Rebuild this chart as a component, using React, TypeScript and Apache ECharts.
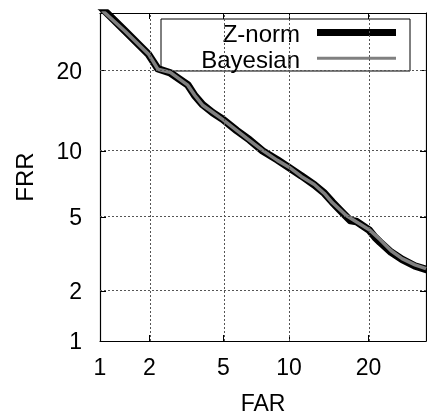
import React, { useEffect, useRef } from "react";
import * as echarts from "echarts";

// Tick labels (percent)
const X_TICKS = [1, 2, 5, 10, 20];
const Y_TICKS = [1, 2, 5, 10, 20];
const AXIS_MIN = 1;
const AXIS_MAX = 30;

// Bayesian DET curve (FAR %, FRR %)
const BAYES_FAR = [1.0, 1.06, 1.43, 1.98, 2.24, 2.62, 3.28, 3.57, 3.93, 4.42, 4.96, 5.81, 6.68, 7.67, 8.92, 10.04, 11.25, 12.68, 13.87, 14.86, 16.72, 18.14, 20.09, 21.83, 23.66, 25.57, 27.92, 30.0];
const BAYES_FRR = [31.3, 30.2, 26.64, 22.65, 20.24, 19.78, 17.85, 16.45, 15.12, 14.24, 13.38, 12.12, 11.05, 10.04, 9.11, 8.49, 7.75, 7.13, 6.48, 5.87, 5.08, 4.74, 4.32, 3.84, 3.36, 3.05, 2.82, 2.69];

// Z-norm DET curve (FAR %, FRR %)
const ZNORM_FAR = [1.0, 1.43, 1.98, 2.24, 2.62, 3.28, 3.57, 3.93, 4.42, 4.96, 5.81, 6.68, 7.67, 8.92, 10.04, 11.25, 12.68, 13.87, 14.86, 16.2, 17.3, 18.14, 20.09, 21.0, 21.83, 23.66, 25.57, 27.92, 30.0];
const ZNORM_FRR = [31.3, 26.7, 22.6, 20.3, 19.7, 17.9, 16.4, 15.2, 14.2, 13.4, 12.1, 11.1, 10.0, 9.15, 8.45, 7.8, 7.1, 6.5, 5.9, 5.25, 4.8, 4.75, 4.3, 3.95, 3.72, 3.3, 3.02, 2.78, 2.66];

const SERIES_NAMES = ["Z-norm", "Bayesian"];

// Normal deviate (probit) scale used by DET plots
function probit(pct: number): number {
  const p = pct / 100;
  const a = [-3.969683028665376e1, 2.209460984245205e2, -2.759285104469687e2, 1.38357751867269e2, -3.066479806614716e1, 2.506628277459239];
  const b = [-5.447609879822406e1, 1.615858368580409e2, -1.556989798598866e2, 6.680131188771972e1, -1.328068155288572e1];
  const c = [-7.784894002430293e-3, -3.223964580411365e-1, -2.400758277161838, -2.549732539343734, 4.374664141464968, 2.938163982698783];
  const d = [7.784695709041462e-3, 3.224671290700398e-1, 2.445134137142996, 3.754408661907416];
  const pl = 0.02425;
  const ph = 1 - pl;
  if (p < pl) {
    const q = Math.sqrt(-2 * Math.log(p));
    return (((((c[0] * q + c[1]) * q + c[2]) * q + c[3]) * q + c[4]) * q + c[5]) / ((((d[0] * q + d[1]) * q + d[2]) * q + d[3]) * q + 1);
  }
  if (p <= ph) {
    const q = p - 0.5;
    const r = q * q;
    return ((((((a[0] * r + a[1]) * r + a[2]) * r + a[3]) * r + a[4]) * r + a[5]) * q) / (((((b[0] * r + b[1]) * r + b[2]) * r + b[3]) * r + b[4]) * r + 1);
  }
  const q = Math.sqrt(-2 * Math.log(1 - p));
  return -(((((c[0] * q + c[1]) * q + c[2]) * q + c[3]) * q + c[4]) * q + c[5]) / ((((d[0] * q + d[1]) * q + d[2]) * q + d[3]) * q + 1);
}

const FONT = "Liberation Sans";

export default function App() {
  const ref = useRef<HTMLDivElement>(null);
  useEffect(() => {
    if (!ref.current) return;
    const chart = echarts.init(ref.current, null, { renderer: "svg" });
    const zMin = probit(AXIS_MIN);
    const zMax = probit(AXIS_MAX);
    const xVals = X_TICKS.map(probit);
    const yVals = Y_TICKS.map(probit);
    const fmt = (ticks: number[]) => (v: number) => {
      let best = ticks[0];
      let bd = Infinity;
      ticks.forEach((t) => {
        const dd = Math.abs(probit(t) - v);
        if (dd < bd) { bd = dd; best = t; }
      });
      return String(best);
    };
    const gridLine = { type: [2, 2], color: "#555", width: 1 };
    const tickStyle = { show: true, inside: true, length: 6, lineStyle: { color: "#000", width: 1 } };
    const axisLine = { show: true, onZero: false, lineStyle: { color: "#000", width: 1.2 } };
    const pairs = (xs: number[], ys: number[]) => xs.map((x, i) => [probit(x), probit(ys[i])]);

    chart.setOption({
      animation: false,
      grid: { left: 100, top: 13, width: 326, height: 328, containLabel: false, outerBoundsMode: "none" },
      xAxis: [
        {
          type: "value", position: "bottom", min: zMin, max: zMax,
          axisLine,
          axisTick: { ...tickStyle, customValues: xVals.slice(1) },
          axisLabel: { customValues: xVals, formatter: fmt(X_TICKS), fontFamily: FONT, fontSize: 23, color: "#000", margin: 14 },
          splitLine: { show: false },
          name: "FAR", nameLocation: "middle", nameGap: 50,
          nameTextStyle: { fontFamily: FONT, fontSize: 23, color: "#000" },
        },
        {
          type: "value", position: "top", min: zMin, max: zMax,
          axisLine,
          axisTick: { ...tickStyle, customValues: xVals.slice(1) },
          axisLabel: { show: false },
          splitLine: { show: false },
        },
      ],
      yAxis: [
        {
          type: "value", position: "left", min: zMin, max: zMax,
          axisLine,
          axisTick: { ...tickStyle, customValues: yVals.slice(1) },
          axisLabel: { customValues: yVals, formatter: fmt(Y_TICKS), fontFamily: FONT, fontSize: 23, color: "#000", margin: 18 },
          splitLine: { show: false },
          name: "FRR", nameLocation: "middle", nameGap: 64,
          nameTextStyle: { fontFamily: FONT, fontSize: 24, color: "#000" },
        },
        {
          type: "value", position: "right", min: zMin, max: zMax,
          axisLine,
          axisTick: { ...tickStyle, customValues: yVals.slice(1) },
          axisLabel: { show: false },
          splitLine: { show: false },
        },
      ],
      series: [
        {
          type: "line", name: "grid", data: [], z: 1, silent: true,
          markLine: {
            silent: true, symbol: ["none", "none"], label: { show: false }, lineStyle: gridLine,
            data: [
              ...xVals.slice(1).map((v) => ({ xAxis: v })),
              ...yVals.slice(1).map((v) => ({ yAxis: v })),
            ],
          },
        },
        {
          type: "line", name: SERIES_NAMES[0], data: pairs(ZNORM_FAR, ZNORM_FRR), z: 3,
          showSymbol: false, symbol: "none", clip: true,
          lineStyle: { color: "#000", width: 7.5, join: "round", cap: "round" },
        },
        {
          type: "line", name: SERIES_NAMES[1], data: pairs(BAYES_FAR, BAYES_FRR), z: 4,
          showSymbol: false, symbol: "none", clip: true,
          lineStyle: { color: "#808080", width: 3.5, join: "round" },
        },
      ],
      graphic: [
        {
          type: "group", z: 100,
          children: [
            { type: "rect", shape: { x: 161, y: 19, width: 249, height: 52 }, style: { fill: "#fff", stroke: "#000", lineWidth: 1 } },
            { type: "text", style: { text: SERIES_NAMES[0], x: 300, y: 33, align: "right", textAlign: "right", verticalAlign: "middle", textVerticalAlign: "middle", fontFamily: FONT, fontSize: 24, fill: "#000" } },
            { type: "text", style: { text: SERIES_NAMES[1], x: 300, y: 59, align: "right", textAlign: "right", verticalAlign: "middle", textVerticalAlign: "middle", fontFamily: FONT, fontSize: 24, fill: "#000" } },
            { type: "line", shape: { x1: 317, y1: 32.5, x2: 396, y2: 32.5 }, style: { stroke: "#000", lineWidth: 7 } },
            { type: "line", shape: { x1: 317, y1: 58.3, x2: 396, y2: 58.3 }, style: { stroke: "#808080", lineWidth: 3 } },
          ],
        },
      ],
    });
    return () => chart.dispose();
  }, []);
  return <div ref={ref} style={{ position: "fixed", left: 0, top: 0, width: 427, height: 414 }} />;
}
